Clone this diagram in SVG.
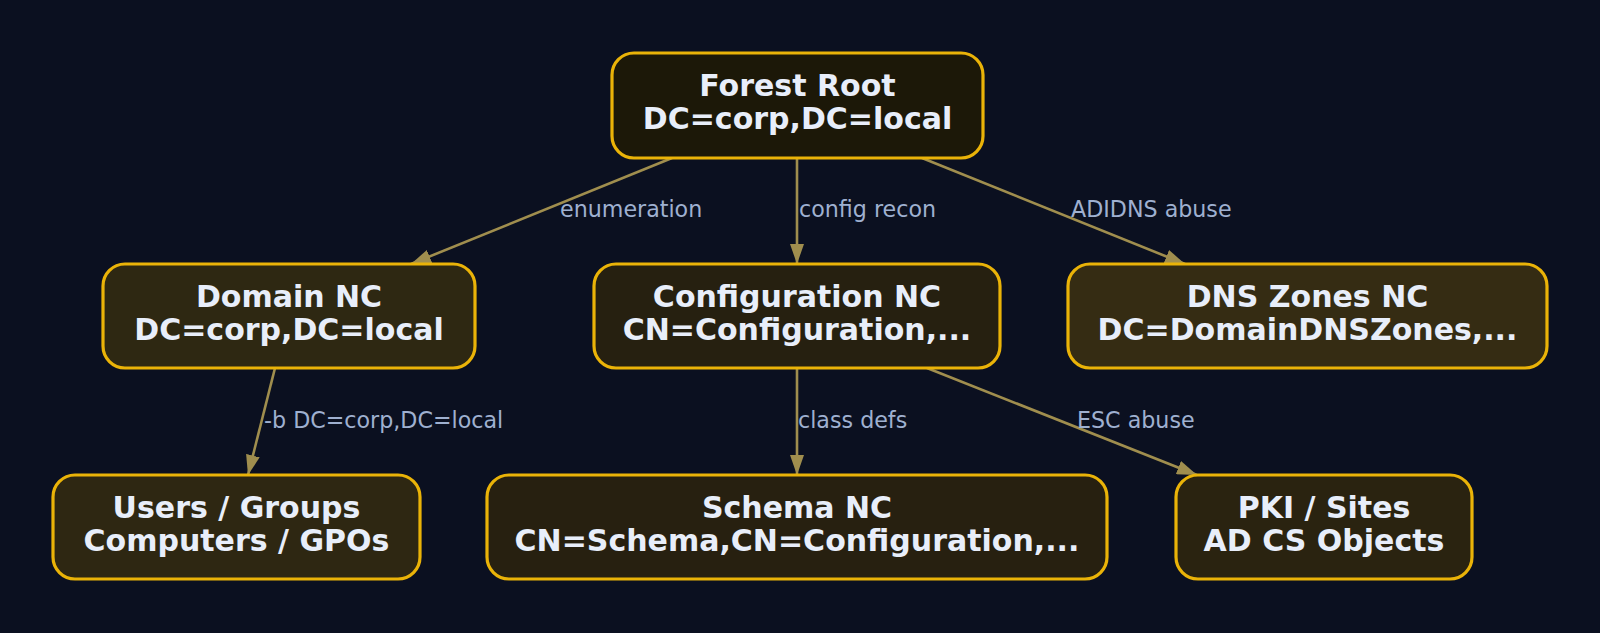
<svg xmlns="http://www.w3.org/2000/svg" width="1600" height="633" viewBox="0 0 1600 633">
  <style>
    .node rect { stroke: #eab308; stroke-width: 3.2; }
    .node text { font-family: "DejaVu Sans", sans-serif; font-weight: bold; font-size: 30px; fill: #e8eefa; text-anchor: middle; }
    .edge { stroke: #a08e4e; stroke-width: 2.6; fill: none; marker-end: url(#arrow); }
    .lbl { font-family: "DejaVu Sans", sans-serif; font-size: 22.2px; fill: #9fb0d0; }
  </style>
  <defs>
    <marker id="arrow" markerUnits="userSpaceOnUse" markerWidth="20" markerHeight="14" refX="20" refY="7" orient="auto">
      <path d="M0,0 L20,7 L0,14 z" fill="#a08e4e"/>
    </marker>
  </defs>
  <rect width="1600" height="633" fill="#0b1020"/>

  <g id="connectors">
    <line class="edge" x1="672" y1="158" x2="411" y2="264"/>
    <text class="lbl" x="560" y="217">enumeration</text>
    <line class="edge" x1="797" y1="158" x2="797" y2="264"/>
    <text class="lbl" x="799" y="217">config recon</text>
    <line class="edge" x1="922" y1="158" x2="1185" y2="264"/>
    <text class="lbl" x="1071" y="217">ADIDNS abuse</text>
    <line class="edge" x1="275" y1="368" x2="248" y2="475"/>
    <text class="lbl" x="264" y="428">-b DC=corp,DC=local</text>
    <line class="edge" x1="797" y1="368" x2="797" y2="475"/>
    <text class="lbl" x="798" y="428">class defs</text>
    <line class="edge" x1="927" y1="368" x2="1197" y2="475"/>
    <text class="lbl" x="1077" y="428">ESC abuse</text>
  </g>

  <g id="forest-root" class="node">
    <rect x="612" y="53" width="371" height="105" rx="22" fill="#1c1808"/>
    <text x="797.5" y="96">Forest Root</text>
    <text x="797.5" y="129">DC=corp,DC=local</text>
  </g>
  <g id="domain-nc" class="node">
    <rect x="103" y="264" width="372" height="104" rx="22" fill="#2e2812"/>
    <text x="289" y="307">Domain NC</text>
    <text x="289" y="340">DC=corp,DC=local</text>
  </g>
  <g id="configuration-nc" class="node">
    <rect x="594" y="264" width="406" height="104" rx="22" fill="#262010"/>
    <text x="797" y="307">Configuration NC</text>
    <text x="797" y="340">CN=Configuration,...</text>
  </g>
  <g id="dns-zones-nc" class="node">
    <rect x="1068" y="264" width="479" height="104" rx="22" fill="#352c13"/>
    <text x="1307.5" y="307">DNS Zones NC</text>
    <text x="1307.5" y="340">DC=DomainDNSZones,...</text>
  </g>
  <g id="users-groups" class="node">
    <rect x="53" y="475" width="367" height="104" rx="22" fill="#2e2712"/>
    <text x="236.5" y="518">Users / Groups</text>
    <text x="236.5" y="551">Computers / GPOs</text>
  </g>
  <g id="schema-nc" class="node">
    <rect x="487" y="475" width="620" height="104" rx="22" fill="#272010"/>
    <text x="797" y="518">Schema NC</text>
    <text x="797" y="551">CN=Schema,CN=Configuration,...</text>
  </g>
  <g id="pki-sites" class="node">
    <rect x="1176" y="475" width="296" height="104" rx="22" fill="#2a2310"/>
    <text x="1324" y="518">PKI / Sites</text>
    <text x="1324" y="551">AD CS Objects</text>
  </g>
</svg>
